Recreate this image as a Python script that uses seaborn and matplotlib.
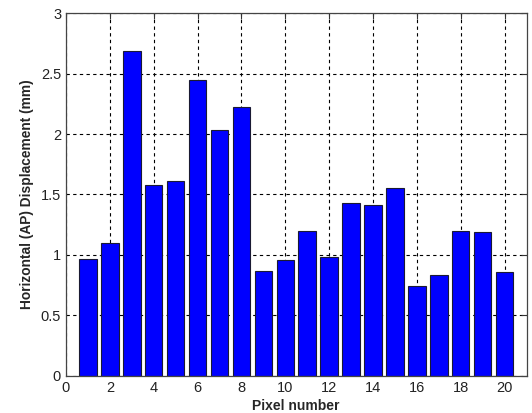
import matplotlib
matplotlib.use("Agg")
import matplotlib.pyplot as plt
import seaborn as sns

pixels = list(range(1, 21))
displacement = [0.97, 1.10, 2.69, 1.58, 1.61, 2.45, 2.03, 2.22, 0.87, 0.96,
                1.20, 0.98, 1.43, 1.41, 1.55, 0.74, 0.83, 1.20, 1.19, 0.86]
xticks = [0, 2, 4, 6, 8, 10, 12, 14, 16, 18, 20]
yticks = [0, 0.5, 1, 1.5, 2, 2.5, 3]

sns.set_style("white")
plt.rcParams["font.family"] = ["Liberation Sans", "DejaVu Sans"]

fig = plt.figure(figsize=(5.32, 4.13), dpi=100)
ax = fig.add_axes([0.124, 0.0903, 0.8657, 0.8777])

sns.barplot(x=pixels, y=displacement, native_scale=True, width=0.8,
            color="#0000ff", saturation=1, edgecolor="#1a1a33", linewidth=0.8, ax=ax)

ax.set_xlim(0, 21)
ax.set_ylim(0, 3)
ax.set_xticks(xticks)
ax.set_yticks(yticks)
ax.set_yticklabels(["0", "0.5", "1", "1.5", "2", "2.5", "3"])
ax.set_axisbelow(True)
ax.grid(True, color="black", linestyle=(0, (3, 3)), linewidth=0.8)
ax.tick_params(direction="in", top=True, right=True, length=4, width=0.8,
               labelsize=10.5, colors="#333333", labelcolor="#222222")
for s in ax.spines.values():
    s.set_color("#444444")
    s.set_linewidth(0.9)

ax.set_xlabel("Pixel number", fontsize=10, fontweight="bold", labelpad=3)
ax.set_ylabel("Horizontal (AP) Displacement (mm)", fontsize=9.9, fontweight="bold", labelpad=5)

fig.savefig("out.png", dpi=100)
